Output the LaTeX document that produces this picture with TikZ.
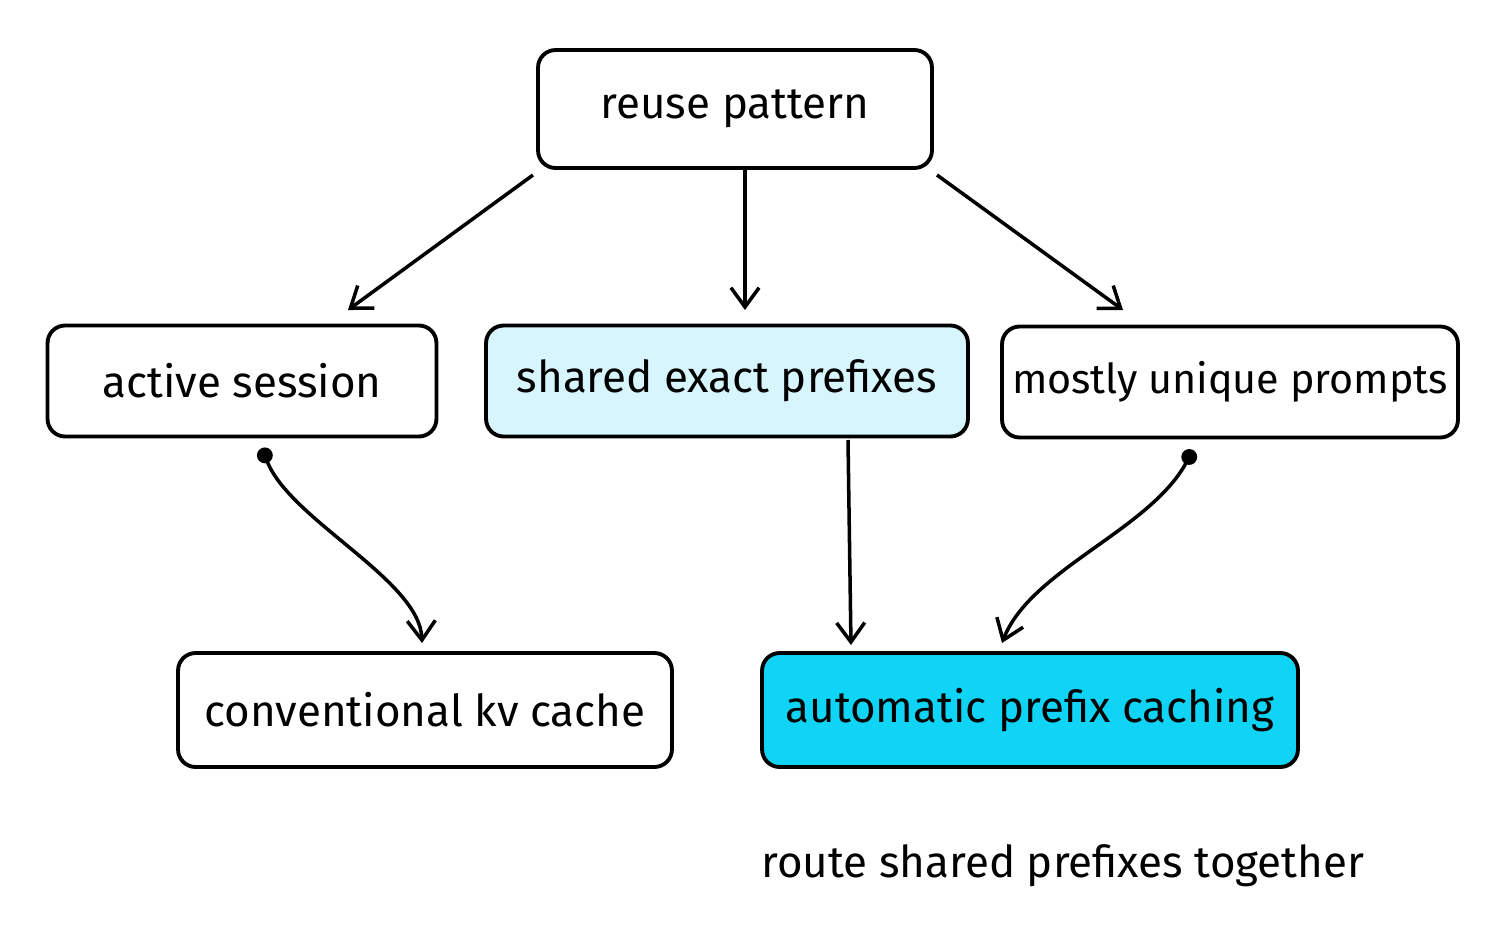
\documentclass[tikz,border=0pt]{standalone}
\usepackage{fontspec}
\setmainfont{Fira Sans}
\usetikzlibrary{arrows.meta,positioning}
\definecolor{palecyan}{RGB}{215,245,252}
\definecolor{brightcyan}{RGB}{15,212,245}
\tikzset{
  box/.style={draw,line width=2.2pt,rounded corners=10pt,inner sep=0pt,
    font=\fontsize{25}{30}\selectfont},
  link/.style={line width=2pt,-{Straight Barb[length=11pt,width=16pt]}},
  dotlink/.style={link,{Circle[length=9pt]}-{Straight Barb[length=11pt,width=16pt]}}
}
\begin{document}
\begin{tikzpicture}[x=0.02cm,y=-0.02cm]
\useasboundingbox (0,0) rectangle (1509,941);

%boxes
\node [box,minimum width=7.88cm,minimum height=2.36cm] (reuse) at (735,109) {reuse pattern};
\node [box,minimum width=7.78cm,minimum height=2.22cm] (active) at (242,381) {active session};
\node [box,fill=palecyan,minimum width=9.64cm,minimum height=2.22cm] (shared) at (727,381) {shared exact prefixes};
\node [box,minimum width=9.12cm,minimum height=2.22cm,font=\fontsize{23.5}{28}\selectfont] (unique) at (1230,382) {mostly unique prompts};
\node [box,minimum width=9.88cm,minimum height=2.28cm] (conv) at (425,710) {conventional kv cache};
\node [box,fill=brightcyan,minimum width=10.72cm,minimum height=2.28cm] (apc) at (1030,710) {automatic prefix caching};

%note
\node [font=\fontsize{25}{30}\selectfont] (note) at (1063,866) {route shared prefixes together};

%arrow ends
\coordinate (a1) at (533,175);
\coordinate (b1) at (348,310);
\coordinate (a2) at (745,170);
\coordinate (b2) at (745,310);
\coordinate (a3) at (937,175);
\coordinate (b3) at (1123,310);
\coordinate (c1) at (262,448);
\coordinate (d1) at (422,643);
\coordinate (c2) at (848,440);
\coordinate (d2) at (851,645);
\coordinate (c3) at (1193,450);
\coordinate (d3) at (1002,643);

%connectors
\draw [link] (a1) -- (b1);
\draw [link] (a2) -- (b2);
\draw [link] (a3) -- (b3);
\draw [dotlink] (c1) .. controls (290,520) and (420,580) .. (d1);
\draw [link] (c2) -- (d2);
\draw [dotlink] (c3) .. controls (1150,530) and (1030,570) .. (d3);

\end{tikzpicture}
\end{document}
